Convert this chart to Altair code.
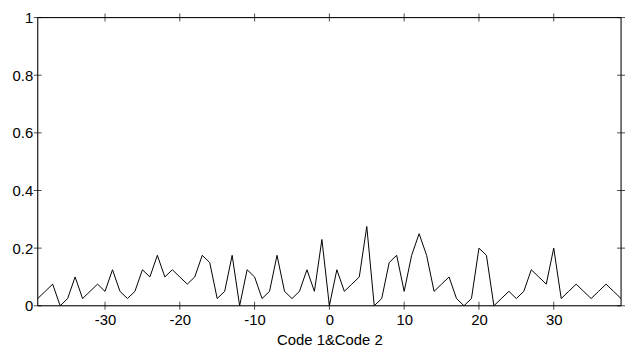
import altair as alt
import pandas as pd

lags = list(range(-39, 40))
values = [
    0.025, 0.05, 0.075, 0.0, 0.025, 0.1, 0.025, 0.05, 0.075, 0.05,
    0.125, 0.05, 0.025, 0.05, 0.125, 0.1, 0.175, 0.1, 0.125, 0.1,
    0.075, 0.1, 0.175, 0.15, 0.025, 0.05, 0.175, 0.0, 0.125, 0.1,
    0.025, 0.05, 0.175, 0.05, 0.025, 0.05, 0.125, 0.05, 0.23, 0.0,
    0.125, 0.05, 0.075, 0.1, 0.275, 0.0, 0.025, 0.15, 0.175, 0.05,
    0.175, 0.25, 0.175, 0.05, 0.075, 0.1, 0.025, 0.0, 0.025, 0.2,
    0.175, 0.0, 0.025, 0.05, 0.025, 0.05, 0.125, 0.1, 0.075, 0.2,
    0.025, 0.05, 0.075, 0.05, 0.025, 0.05, 0.075, 0.05, 0.025,
]
x_ticks = [-30, -20, -10, 0, 10, 20, 30]
y_ticks = [0, 0.2, 0.4, 0.6, 0.8, 1]
x_range = [-39, 39]
y_range = [0, 1]

W, H = 589, 291
FONT = "Liberation Sans"

df = pd.DataFrame({"lag": lags, "value": values})
xt = pd.DataFrame({"tx": x_ticks})
yt = pd.DataFrame({"ty": y_ticks})
box = pd.DataFrame({"x0": [x_range[0]], "x1": [x_range[1]],
                    "y0": [y_range[0]], "y1": [y_range[1]]})

xscale = alt.Scale(domain=x_range, nice=False, zero=False)
yscale = alt.Scale(domain=y_range, nice=False)

line = alt.Chart(df).mark_line(color="black", strokeWidth=1).encode(
    x=alt.X("lag:Q", scale=xscale,
            axis=alt.Axis(values=x_ticks, title="Code 1&Code 2", ticks=False, tickSize=0,
                          domain=False, grid=False, labelPadding=7, labelFontSize=15,
                          labelExpr="datum.value + ''",
                          labelFont=FONT, labelColor="black", titleFont=FONT,
                          titleFontSize=15, titleFontWeight="normal", titleColor="black",
                          titleBaseline="alphabetic", titleY=39)),
    y=alt.Y("value:Q", scale=yscale,
            axis=alt.Axis(values=y_ticks, title=None, ticks=False, tickSize=0, domain=False,
                          grid=False, labelPadding=5, labelFontSize=15,
                          labelExpr="datum.value + ''",
                          labelFont=FONT, labelColor="black")),
)

frame = alt.Chart(box).mark_rect(
    fillOpacity=0, stroke="black", strokeWidth=1
).encode(x=alt.X("x0:Q", scale=xscale), x2="x1:Q",
         y=alt.Y("y0:Q", scale=yscale), y2="y1:Q")

bt = alt.Chart(xt).mark_tick(color="black", thickness=1, size=8, orient="vertical").encode(
    x=alt.X("tx:Q", scale=xscale), y=alt.value(H))
tt = alt.Chart(xt).mark_tick(color="black", thickness=1, size=8, orient="vertical").encode(
    x=alt.X("tx:Q", scale=xscale), y=alt.value(0))
lt = alt.Chart(yt).mark_tick(color="black", thickness=1, size=8, orient="horizontal").encode(
    y=alt.Y("ty:Q", scale=yscale), x=alt.value(0))
rt = alt.Chart(yt).mark_tick(color="black", thickness=1, size=8, orient="horizontal").encode(
    y=alt.Y("ty:Q", scale=yscale), x=alt.value(W))

chart = alt.layer(line, frame, bt, tt, lt, rt).properties(
    width=W, height=H,
    background="white",
    autosize=alt.AutoSizeParams(type="none"),
    padding={"left": 30, "top": 8, "right": 4, "bottom": 42},
)

chart.save("out.html", embed_options={"renderer": "svg", "actions": False})
